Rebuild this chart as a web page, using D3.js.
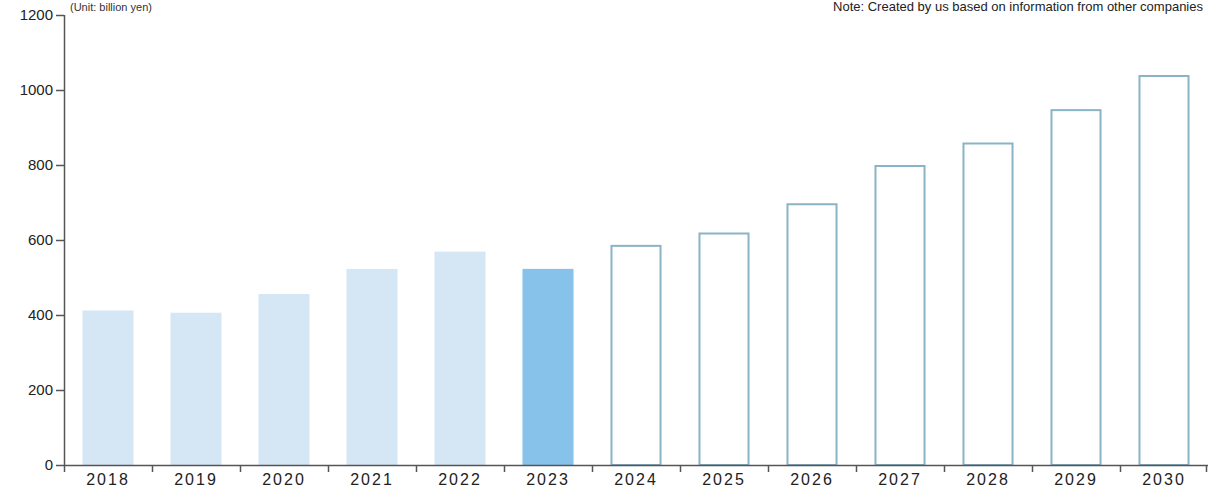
<!DOCTYPE html>
<html>
<head>
<meta charset="utf-8">
<script src="https://cdn.jsdelivr.net/npm/d3@7"></script>
<style>
  html, body { margin: 0; padding: 0; background: #fff; }
  svg { display: block; }
  .ytick text { font-family: "Liberation Sans", Arial, sans-serif; font-size: 15px; fill: #222; }
  .xtick text { font-family: "Liberation Sans", Arial, sans-serif; font-size: 16px; fill: #222; letter-spacing: 2px; }
</style>
</head>
<body>
<svg id="chart" width="1208" height="489"></svg>
<script>
// Market size by year: actuals 2018-2022, latest 2023, forecasts 2024-2030
const years = ["2018", "2019", "2020", "2021", "2022", "2023", "2024", "2025", "2026", "2027", "2028", "2029", "2030"];
const values = [412, 406, 456, 523, 569, 523, 587, 620, 698, 800, 860, 949, 1040];
const kinds = ["actual", "actual", "actual", "actual", "actual", "current",
               "forecast", "forecast", "forecast", "forecast", "forecast", "forecast", "forecast"];
const yTicks = [0, 200, 400, 600, 800, 1000, 1200];
const noteText = "Note: Created by us based on information from other companies";
const unitText = "(Unit: billion yen)";

const svg = d3.select("#chart");
const plotLeft = 64, plotRight = 1208, plotTop = 15, plotBottom = 465;

const x = d3.scaleBand().domain(years).range([plotLeft, plotRight]).paddingInner(0.42).paddingOuter(0.21);
const band = d3.scaleBand().domain(years).range([plotLeft, plotRight]).padding(0);
const y = d3.scaleLinear().domain([0, 1200]).range([plotBottom, plotTop]);

// Header texts
svg.append("text").attr("x", 70).attr("y", 11)
  .attr("font-family", "Liberation Sans, Arial, sans-serif").attr("font-size", 11).attr("fill", "#333")
  .text(unitText);
svg.append("text").attr("x", 1203).attr("y", 11).attr("text-anchor", "end")
  .attr("font-family", "Liberation Sans, Arial, sans-serif").attr("font-size", 13).attr("fill", "#222")
  .text(noteText);

// Bars
const fills = { actual: "#d5e6f5", current: "#86c2ea", forecast: "#ffffff" };
const data = years.map((yr, i) => ({ year: yr, value: values[i], kind: kinds[i] }));

svg.append("g").selectAll("rect").data(data).join("rect")
  .attr("x", d => x(d.year) + (d.kind === "forecast" ? 1 : 0))
  .attr("y", d => y(d.value) + (d.kind === "forecast" ? 1 : 0))
  .attr("width", d => x.bandwidth() - (d.kind === "forecast" ? 2 : 0))
  .attr("height", d => plotBottom - y(d.value) - (d.kind === "forecast" ? 1 : 0))
  .attr("fill", d => fills[d.kind])
  .attr("stroke", d => d.kind === "forecast" ? "#8ab4c6" : "none")
  .attr("stroke-width", 2);

// Y axis
const yAxis = svg.append("g").attr("class", "ytick").attr("transform", `translate(${plotLeft},0)`)
  .call(d3.axisLeft(y).tickValues(yTicks).tickSize(8).tickPadding(3).tickFormat(d3.format("d")));
yAxis.select(".domain").attr("stroke", "#555").attr("stroke-width", 1.5).attr("d", `M0.5,${plotTop}V${plotBottom}`);
yAxis.selectAll(".tick line").attr("stroke", "#555").attr("stroke-width", 1.5);

// X axis: ticks at band boundaries, labels centred in each band
const xg = svg.append("g").attr("class", "xtick");
xg.append("line").attr("x1", plotLeft).attr("x2", plotRight).attr("y1", plotBottom + 0.5).attr("y2", plotBottom + 0.5)
  .attr("stroke", "#555").attr("stroke-width", 1.5);
const bounds = years.map(yr => band(yr)).concat([plotRight - 2]);
xg.selectAll("line.b").data(bounds).join("line").attr("class", "b")
  .attr("x1", d => d + 0.5).attr("x2", d => d + 0.5)
  .attr("y1", plotBottom).attr("y2", plotBottom + 7)
  .attr("stroke", "#555").attr("stroke-width", 1.5);
xg.selectAll("text").data(years).join("text")
  .attr("x", d => band(d) + band.bandwidth() / 2)
  .attr("y", 485)
  .attr("text-anchor", "middle")
  .text(d => d);
</script>
</body>
</html>
